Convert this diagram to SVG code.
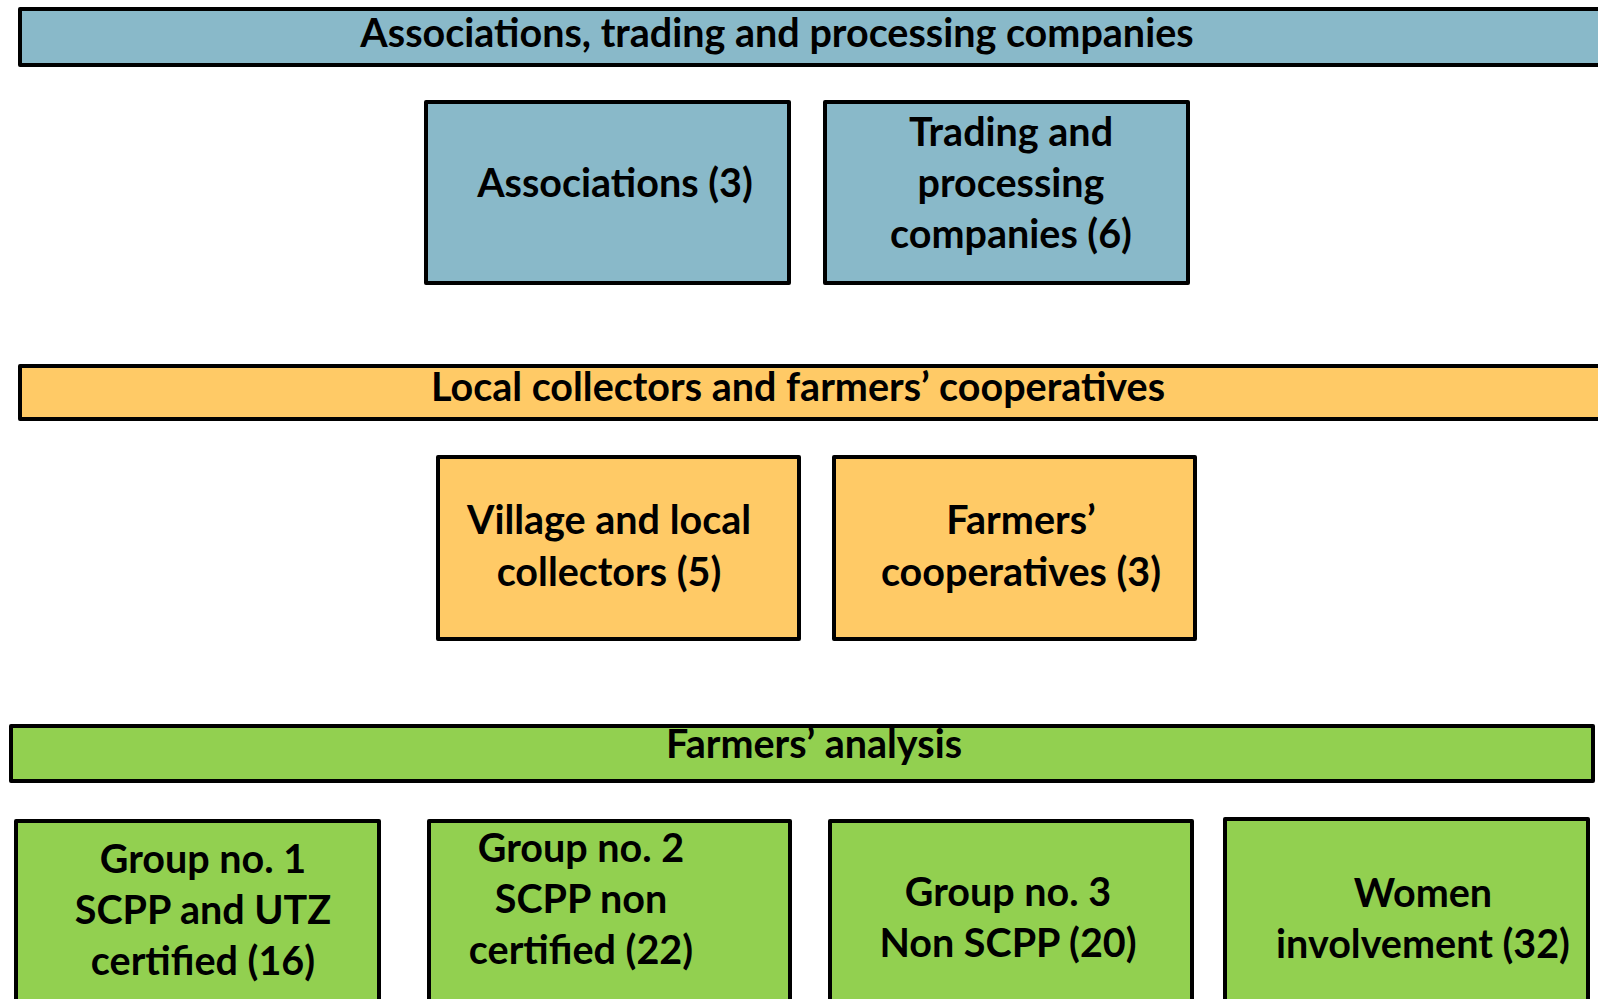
<svg xmlns="http://www.w3.org/2000/svg" width="1598" height="999" viewBox="0 0 1598 999">
<style>
rect{stroke:#000;stroke-width:4;stroke-linejoin:round}
.b{fill:#89B9C9}.o{fill:#FFCA66}.g{fill:#92D050}
text{font-family:Lato,"Open Sans","Liberation Sans",sans-serif;font-weight:bold;font-size:39.5px;fill:#000;text-anchor:middle}
</style>
<rect width="1598" height="999" fill="#fff" style="stroke:none"/>
<g id="banner-associations"><rect class="b" x="20" y="9" width="1600" height="56"/><text x="777" y="47">Associations, trading and processing companies</text></g>
<g id="associations"><rect class="b" x="426" y="102" width="363" height="181"/><text x="615" y="197">Associations (3)</text></g>
<g id="trading"><rect class="b" x="825" y="102" width="363" height="181"/><text x="1011" y="146">Trading and</text><text x="1011" y="197">processing</text><text x="1011" y="248">companies (6)</text></g>
<g id="banner-local"><rect class="o" x="20" y="366" width="1600" height="53"/><text x="798" y="401">Local collectors and farmers’ cooperatives</text></g>
<g id="village"><rect class="o" x="438" y="457" width="361" height="182"/><text x="609" y="534">Village and local</text><text x="609" y="586">collectors (5)</text></g>
<g id="cooperatives"><rect class="o" x="834" y="457" width="361" height="182"/><text x="1021" y="534">Farmers’</text><text x="1021" y="586">cooperatives (3)</text></g>
<g id="banner-farmers"><rect class="g" x="11" y="726" width="1582" height="55"/><text x="814" y="758">Farmers’ analysis</text></g>
<g id="group1"><rect class="g" x="16" y="821" width="363" height="200"/><text x="203" y="873">Group no. 1</text><text x="203" y="924">SCPP and UTZ</text><text x="203" y="975">certified (16)</text></g>
<g id="group2"><rect class="g" x="429" y="821" width="361" height="200"/><text x="581" y="862">Group no. 2</text><text x="581" y="913">SCPP non</text><text x="581" y="964">certified (22)</text></g>
<g id="group3"><rect class="g" x="830" y="821" width="362" height="200"/><text x="1008" y="906">Group no. 3</text><text x="1008" y="957">Non SCPP (20)</text></g>
<g id="women"><rect class="g" x="1225" y="819" width="363" height="200"/><text x="1423" y="907">Women</text><text x="1423" y="958">involvement (32)</text></g>
<g id="connectors"></g>
</svg>
